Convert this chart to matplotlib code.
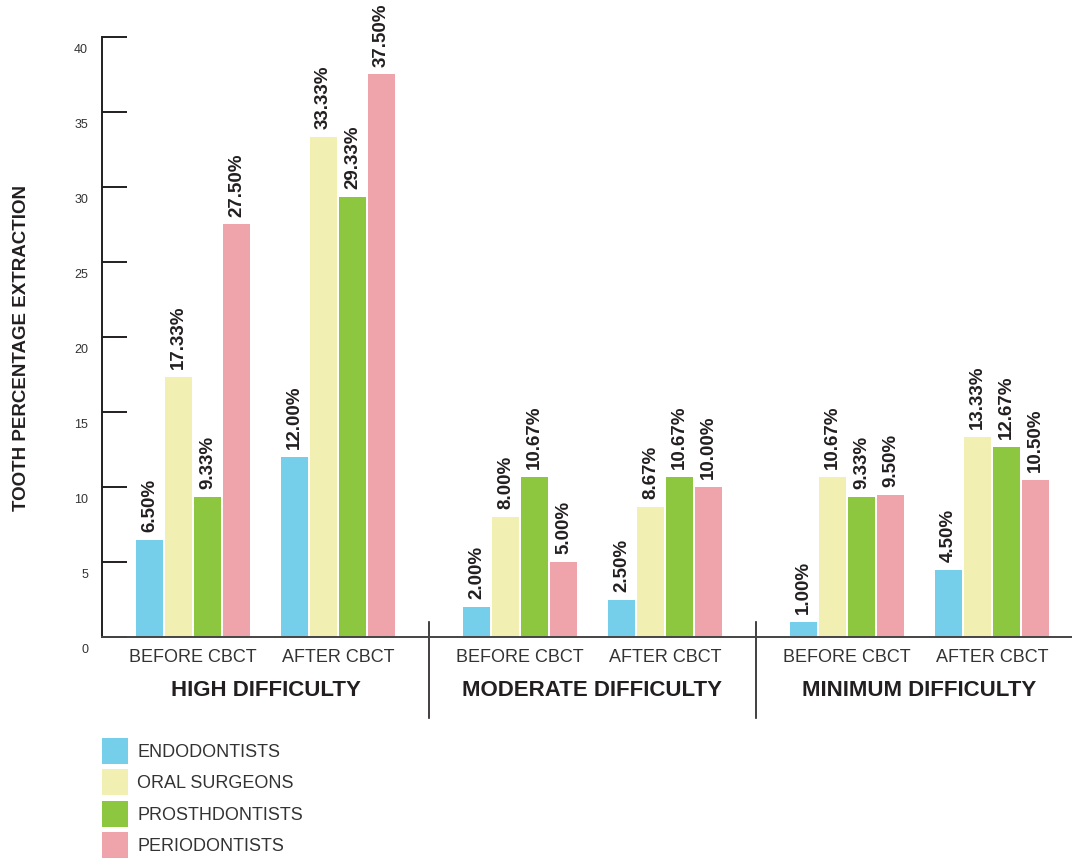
import numpy as np
import matplotlib
matplotlib.use("Agg")
import matplotlib.pyplot as plt
from matplotlib.patches import Patch
from matplotlib.transforms import ScaledTranslation

plt.rcParams['font.family'] = ['Liberation Sans', 'DejaVu Sans']

# data
groups = ["HIGH DIFFICULTY", "MODERATE DIFFICULTY", "MINIMUM DIFFICULTY"]
phases = ["BEFORE CBCT", "AFTER CBCT"]
series = ["ENDODONTISTS", "ORAL SURGEONS", "PROSTHDONTISTS", "PERIODONTISTS"]
endo = [6.50, 12.00, 2.00, 2.50, 1.00, 4.50]
oral = [17.33, 33.33, 8.00, 8.67, 10.67, 13.33]
prost = [9.33, 29.33, 10.67, 10.67, 9.33, 12.67]
perio = [27.50, 37.50, 5.00, 10.00, 9.50, 10.50]
yticks = [0, 5, 10, 15, 20, 25, 30, 35, 40]

colors = ["#75CEEA", "#F2EFB2", "#8DC63F", "#EFA3AA"]
dark = "#231F20"

# x layout: 2 bars per group, wider gap between groups
gap = 182 / 145
pos = []
for g in range(len(groups)):
    pos += [g * (1 + gap), g * (1 + gap) + 1]
pos = np.array(pos)

W, H = 1072, 861
fig = plt.figure(figsize=(W / 100, H / 100), dpi=100)
ax = fig.add_axes([102 / W, (H - 637) / H, (W - 102) / W, 600 / H])

step = 0.2
bw = 0.186
vals = [endo, oral, prost, perio]
for i, v in enumerate(vals):
    xs = pos + (i - 1.5) * step
    ax.bar(xs, v, width=bw, color=colors[i], edgecolor="none", zorder=2)
    for x, y in zip(xs, v):
        ax.annotate(f"{y:.2f}%", (x, y), xytext=(0, 5.5), textcoords="offset points",
                    rotation=90, ha="center", va="bottom", fontsize=13.5,
                    fontweight="bold", color=dark)

ax.set_xlim(-91 / 145, (1072 - 193) / 145)
ax.set_ylim(0, 40)

for s in ["top", "right"]:
    ax.spines[s].set_visible(False)
ax.spines["left"].set_color(dark)
ax.spines["left"].set_linewidth(1.4)
ax.spines["bottom"].set_color("#444444")
ax.spines["bottom"].set_linewidth(1.4)

ax.set_yticks(yticks)
ax.tick_params(axis="y", direction="in", length=18, width=1.4, color=dark, labelleft=False)
off = ax.get_yaxis_transform() + ScaledTranslation(-0.14, -0.13, fig.dpi_scale_trans)
for t in yticks:
    ax.text(0, t, str(t), transform=off, ha="right", va="center", fontsize=9, color="#333333")

ax.set_xticks(pos, phases * len(groups))
ax.tick_params(axis="x", length=0, pad=8.5, labelsize=13, labelcolor="#333333")

gtrans = ax.get_xaxis_transform() + ScaledTranslation(0, -0.54, fig.dpi_scale_trans)
for g, name in enumerate(groups):
    ax.text((pos[2 * g] + pos[2 * g + 1]) / 2, 0, name, transform=gtrans,
            ha="center", va="center", fontsize=16, fontweight="bold", color=dark)

# separators between groups
for g in range(len(groups) - 1):
    xm = (pos[2 * g + 1] + pos[2 * g + 2]) / 2
    ax.plot([xm, xm], [1, -5.4], color=dark, lw=1.2, clip_on=False)

fig.text(22 / W, 1 - 348 / H, "TOOTH PERCENTAGE EXTRACTION", rotation=90,
         ha="center", va="center", fontsize=13.5, fontweight="bold", color=dark)

handles = [Patch(facecolor=c, edgecolor="none") for c in colors]
fig.legend(handles, series, loc="upper left", bbox_to_anchor=(102 / W, 1 - 738 / H),
           frameon=False, borderpad=0, borderaxespad=0, fontsize=13,
           handlelength=1.44, handleheight=1.84, labelspacing=0.3, handletextpad=0.5,
           labelcolor="#333333")

fig.savefig("out.png", dpi=100)
